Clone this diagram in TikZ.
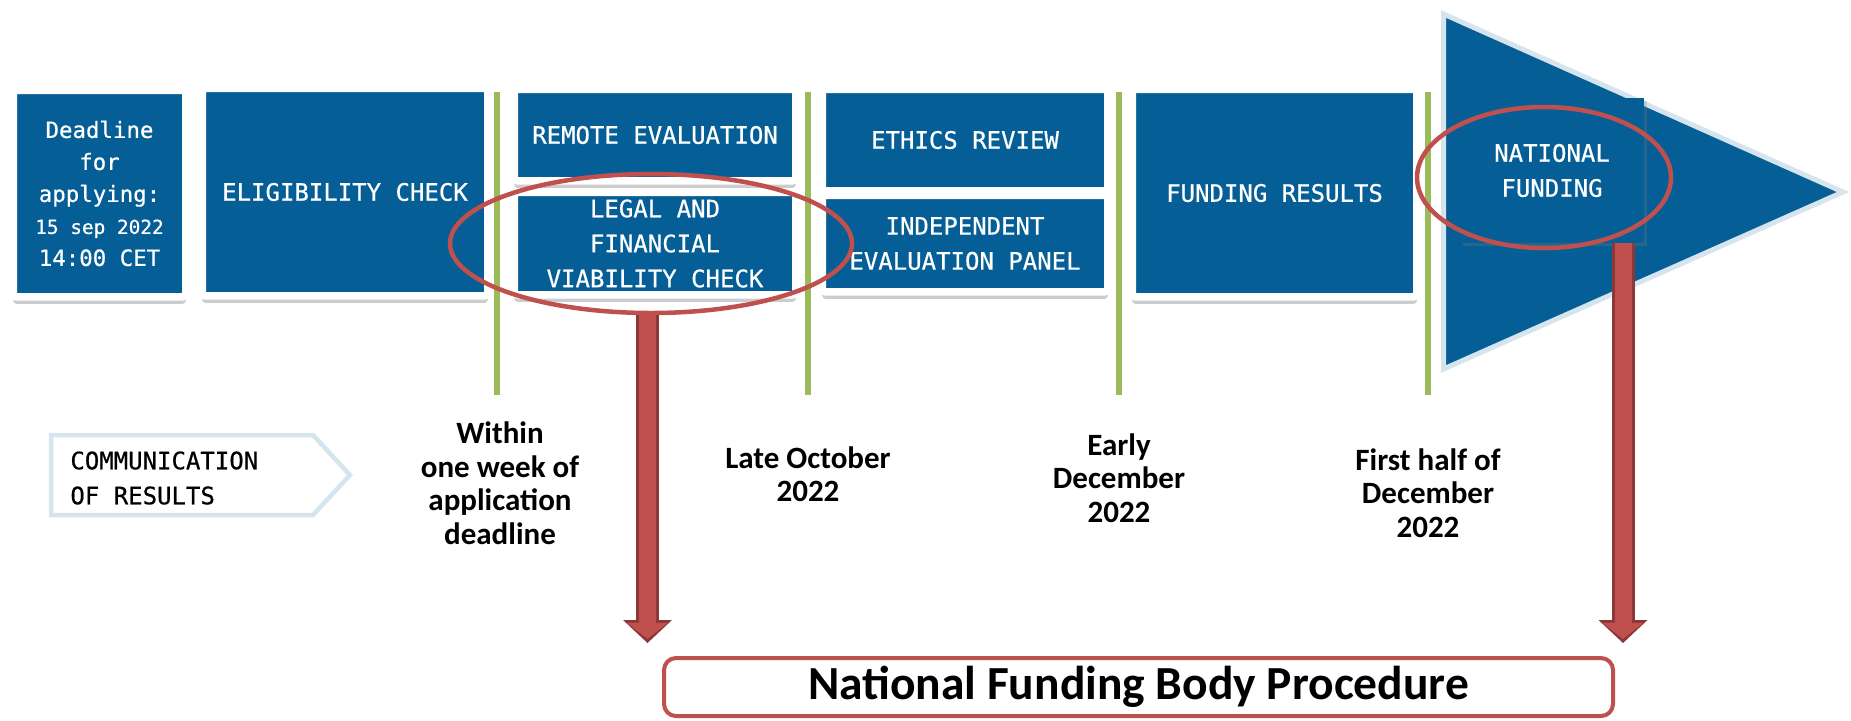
\documentclass[tikz,border=0pt]{standalone}
\usepackage{fontspec}
\setmainfont{Carlito}
\setmonofont{DejaVu Sans Mono}[FakeBold=0.6]
\usepackage{tikz}
\usetikzlibrary{shapes.geometric,shadows,arrows.meta}

\definecolor{ecblue}{HTML}{065E96}
\definecolor{milegreen}{HTML}{9BBB59}
\definecolor{ringred}{HTML}{C0504D}
\definecolor{ringdark}{HTML}{8C3836}
\definecolor{paleblue}{HTML}{D6E4EE}

\begin{document}
\begin{tikzpicture}[x=0.5pt,y=-0.5pt,
	stepbox/.style={fill=ecblue, draw=white, line width=3.75pt, rounded corners=1.5pt, text=white, align=center, inner sep=0pt,
		font=\ttfamily\fontsize{12}{17.5}\selectfont,
		drop shadow={shadow xshift=0pt, shadow yshift=-3.5pt, opacity=.4}},
	ring/.style={ellipse, draw=ringred, line width=2.25pt, inner sep=0pt},
	timelabel/.style={font=\bfseries\fontsize{15.5}{16.75}\selectfont, align=center},
	fatarrow/.style={draw=ringred, line width=8.5pt, -{Triangle[width=20.5pt,length=8pt,line width=0pt]}, shorten >=2.06pt,
		preaction={draw=ringdark, line width=11.5pt, shorten >=0pt, -{Triangle[width=24.5pt,length=11.5pt,line width=0pt]}}}]

	\useasboundingbox (0,0) rectangle (1851,720);

	% milestones
	\draw [milegreen, line width=3pt] (497,92) -- (497,395);
	\draw [milegreen, line width=3pt] (808,92) -- (808,395);
	\draw [milegreen, line width=3pt] (1119,92) -- (1119,395);
	\draw [milegreen, line width=3pt] (1428,92) -- (1428,395);

	\node (dl)[stepbox, minimum width=86.25pt, minimum height=103.25pt, font=\ttfamily\fontsize{11.2}{16}\selectfont] at (99.5,193.5)
		{Deadline\\for\\applying:\\{\fontsize{9.7}{16}\selectfont 15 sep 2022}\\14:00 CET};
	\node (elig)[stepbox, minimum width=142.75pt, minimum height=103.75pt] at (345,192) {ELIGIBILITY CHECK};
	\node (remote)[stepbox, minimum width=140.75pt, minimum height=45.75pt] at (655,135) {REMOTE EVALUATION};
	\node (legal)[stepbox, minimum width=140.75pt, minimum height=51.25pt] at (655,243.5) {LEGAL AND\\FINANCIAL\\VIABILITY CHECK};
	\node (ethics)[stepbox, minimum width=142.75pt, minimum height=50.75pt] at (965,140) {ETHICS REVIEW};
	\node (panel)[stepbox, minimum width=142.75pt, minimum height=48.25pt] at (965,243.5) {INDEPENDENT\\EVALUATION PANEL};
	\node (results)[stepbox, minimum width=142.25pt, minimum height=103.75pt] at (1274.5,193) {FUNDING RESULTS};

	% big arrow head
	\filldraw [fill=ecblue, draw=paleblue, line width=2.5pt] (1443.5,14) -- (1443.5,369) -- (1843,192) -- cycle;
	\node (natl)[fill=ecblue, minimum width=92pt, minimum height=72.5pt, text=white, align=center,
		font=\ttfamily\fontsize{12}{17.5}\selectfont,
		drop shadow={shadow xshift=1.5pt, shadow yshift=-1.5pt, opacity=.25}] at (1552,170.5) {NATIONAL\\FUNDING};

	\node (ring1)[ring, minimum width=201pt, minimum height=69.5pt] at (651,243.5) {};
	\node (ring2)[ring, minimum width=127pt, minimum height=70.5pt] at (1544,177.5) {};

	\draw [paleblue, line width=2.25pt, fill=white] (51,435) -- (313,435) -- (350,475) -- (313,515) -- (51,515) -- cycle;
	\node (comm)[anchor=west, inner sep=0pt, align=left, font=\ttfamily\fontsize{12}{17.5}\selectfont] at (70,478) {COMMUNICATION\\OF RESULTS};

	\node (week)[timelabel] at (500,483) {Within\\one week of\\application\\deadline};
	\node (oct)[timelabel] at (808,474) {Late October\\2022};
	\node (early)[timelabel] at (1119,478) {Early\\December\\2022};
	\node (half)[timelabel] at (1428,493) {First half of\\December\\2022};

	\node (proc)[draw=ringred, line width=2pt, rounded corners=6pt, fill=white, minimum width=474.5pt, minimum height=29pt,
		font=\bfseries\fontsize{23.75}{28}\selectfont] at (1138.5,687) {National Funding Body Procedure};

	\coordinate (tip1) at (647.5,643);
	\coordinate (tip2) at (1623,643);
	\draw [fatarrow] (tip1 |- ring1.south) to (tip1);
	\draw [fatarrow] (tip2 |- natl.south) to (tip2);

\end{tikzpicture}
\end{document}
